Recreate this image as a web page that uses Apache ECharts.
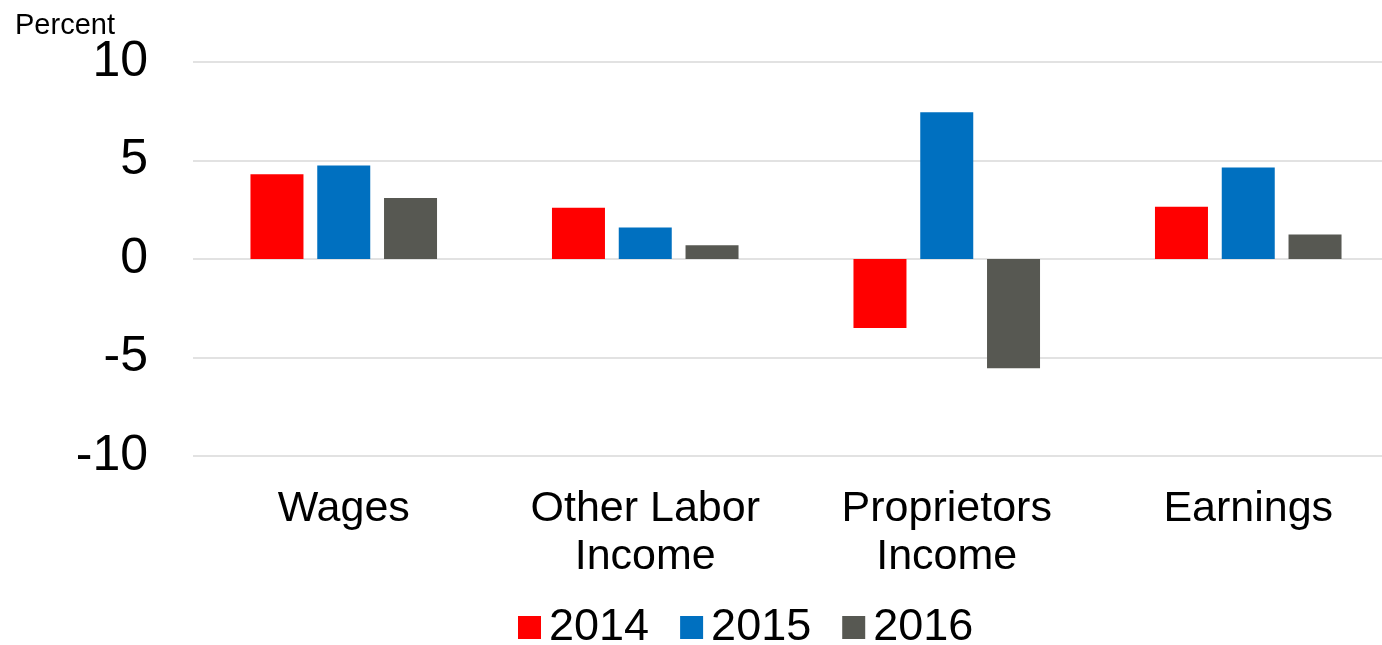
<!DOCTYPE html>
<html>
<head>
<meta charset="utf-8">
<script src="https://cdn.jsdelivr.net/npm/echarts@6/dist/echarts.min.js"></script>
<style>
  html, body { margin: 0; padding: 0; background: #fff; overflow: hidden; }
  #chart { width: 1400px; height: 645px; }
</style>
</head>
<body>
<div id="chart"></div>
<script>
var categories = ['Wages', 'Other Labor\nIncome', 'Proprietors\nIncome', 'Earnings'];
var years = ['2014', '2015', '2016'];
var values2014 = [4.3, 2.6, -3.5, 2.65];
var values2015 = [4.75, 1.6, 7.45, 4.65];
var values2016 = [3.1, 0.7, -5.55, 1.25];
var colors = ['#ff0000', '#0070c0', '#575852'];

var myChart = echarts.init(document.getElementById('chart'));
var font = 'Liberation Sans, Arial, sans-serif';

function bar(name, data, color) {
  return {
    name: name,
    type: 'bar',
    data: data,
    barWidth: 53,
    barGap: '26%',
    itemStyle: { color: color }
  };
}

option = {
  animation: false,
  textStyle: { fontFamily: font, color: '#000' },
  title: {
    text: 'Percent',
    left: 15,
    top: 11,
    padding: 0,
    textStyle: { fontSize: 29, fontWeight: 'normal', color: '#000', fontFamily: font }
  },
  legend: {
    top: 605,
    left: 518,
    padding: 0,
    itemWidth: 23,
    itemHeight: 23,
    itemGap: 31,
    icon: 'rect',
    textStyle: { fontSize: 45, color: '#000', fontFamily: font, padding: [0, 0, 0, 3] },
    data: years
  },
  // plot area runs a bit past the right edge of the window, like the original
  grid: {
    left: 193,
    right: 1,
    top: 62,
    height: 394
  },
  xAxis: {
    type: 'category',
    data: categories,
    axisLine: { show: false, onZero: false },
    axisTick: { show: false },
    axisLabel: {
      interval: 0,
      fontSize: 43,
      lineHeight: 48,
      color: '#000',
      margin: 29,
      fontFamily: font
    }
  },
  yAxis: {
    type: 'value',
    min: -10,
    max: 10,
    interval: 5,
    axisLine: { show: false },
    axisTick: { show: false },
    axisLabel: { fontSize: 50, color: '#000', margin: 45, fontFamily: font },
    splitLine: { lineStyle: { color: '#d9d9d9', width: 1.5 } }
  },
  series: [
    bar('2014', values2014, colors[0]),
    bar('2015', values2015, colors[1]),
    bar('2016', values2016, colors[2])
  ]
};
myChart.setOption(option);
</script>
</body>
</html>
